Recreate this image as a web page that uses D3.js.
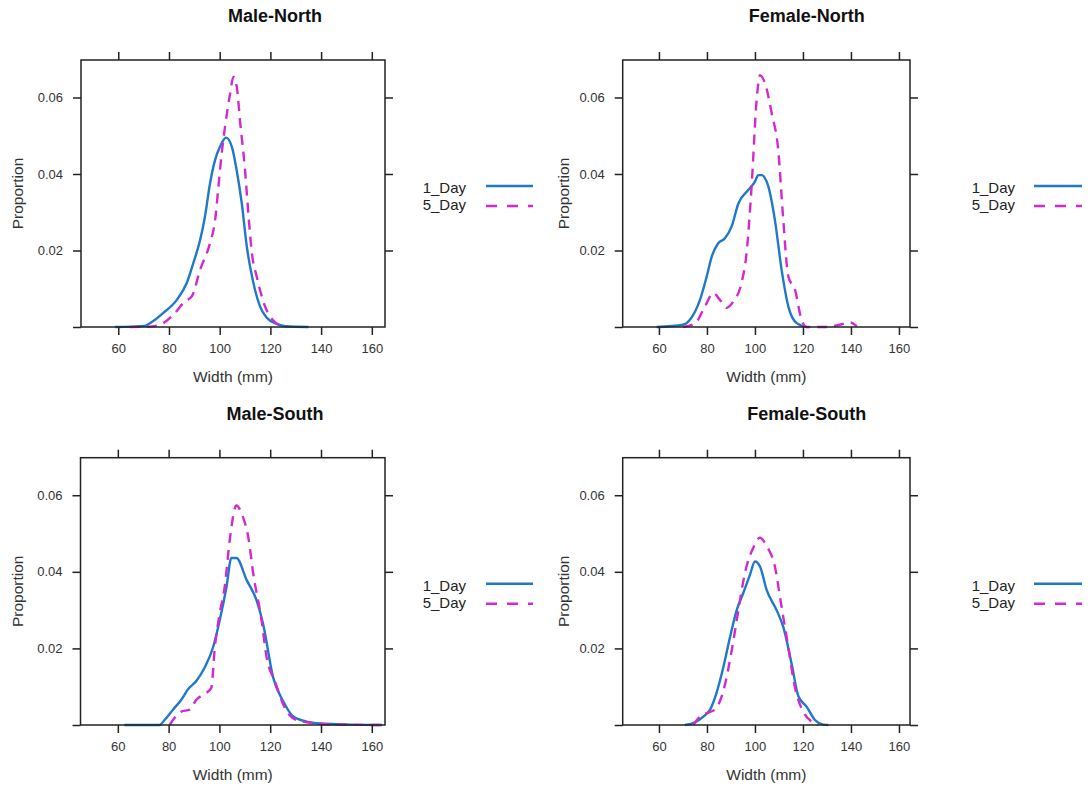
<!DOCTYPE html>
<html>
<head>
<meta charset="utf-8">
<script src="https://cdn.jsdelivr.net/npm/d3@7"></script>
<style>
  html, body { margin: 0; padding: 0; background: #fff; }
  svg { display: block; font-family: "Liberation Sans", Arial, sans-serif; }
</style>
</head>
<body>
<svg id="chart" width="1092" height="789"></svg>
<script>
// ---------------- DATA ----------------
const panelTitles = ["Male-North", "Female-North", "Male-South", "Female-South"];
const seriesNames = ["1_Day", "5_Day"];
const xTicks = [60, 80, 100, 120, 140, 160];
const yTicks = [0, 0.02, 0.04, 0.06];
const yTickLabels = ["", "0.02", "0.04", "0.06"];
const xLabel = "Width (mm)";
const yLabel = "Proportion";

// [width, proportion]
const maleNorth1Day = [[58.7,0],[70.5,0.0003],[72.5,0.0010],[77.8,0.0037],[83.1,0.0071],[87.0,0.0115],[89.6,0.0167],[92.3,0.0228],[94.2,0.0289],[96.2,0.0376],[98.2,0.0437],[100.1,0.0471],[102.5,0.0495],[104.8,0.0471],[106.7,0.0410],[108.7,0.0324],[110.7,0.0210],[113.3,0.0115],[115.9,0.0054],[118.6,0.0024],[122.5,0.0008],[126,0.0002],[135,0]];
const maleNorth5Day = [[64.6,0],[72,0.0001],[76.5,0.0006],[81.7,0.0032],[86.3,0.0067],[89.0,0.0080],[92.3,0.0150],[96.2,0.0220],[98.2,0.0280],[99.5,0.0367],[100.8,0.0454],[102.1,0.0523],[104.1,0.0610],[105.4,0.0654],[106.8,0.0625],[108.0,0.0540],[110.0,0.0410],[111.3,0.0297],[112.7,0.0193],[114.6,0.0132],[117.9,0.0054],[121.9,0.0012],[124.5,0.0003],[126.4,0]];
const femaleNorth1Day = [[59,0],[70.1,0.0006],[72.9,0.0019],[77.1,0.0071],[79.9,0.0132],[82.0,0.0184],[84.7,0.0219],[87.5,0.0232],[90.3,0.0263],[93.1,0.0323],[97.2,0.0358],[100.0,0.0380],[101.4,0.0397],[102.8,0.0397],[105.6,0.0367],[108.3,0.0280],[111.1,0.0150],[113.9,0.0054],[117.4,0.0010],[121.5,0]];
const femaleNorth5Day = [[70,0],[75,0.0009],[79.2,0.0054],[82.6,0.0089],[85.4,0.0071],[88.2,0.0050],[91.0,0.0067],[94.4,0.0115],[96.5,0.0193],[98.6,0.0367],[100.7,0.0593],[102.1,0.0658],[104.2,0.0637],[107.0,0.0558],[109.7,0.0463],[111.8,0.0280],[113.9,0.0132],[116.7,0.0097],[119.4,0.0019],[121.5,0],[129.9,0],[135.4,0.0006],[139.6,0.0012],[142.4,0.0002]];
const maleSouth1Day = [[62.6,0],[76.4,0],[78.4,0.0013],[81.7,0.0040],[85.0,0.0066],[87.6,0.0093],[90.9,0.0115],[94.2,0.0150],[97.5,0.0203],[100.1,0.0273],[102.8,0.0361],[104.7,0.0436],[106.7,0.0436],[110.7,0.0379],[114.6,0.0326],[117.2,0.0264],[121.2,0.0123],[125.1,0.0062],[129.1,0.0022],[134.3,0.0009],[139.6,0.0004],[151.4,0.0001],[164,0]];
const maleSouth5Day = [[80.4,0],[81.7,0.0013],[85.0,0.0035],[88.3,0.0040],[90.9,0.0066],[94.9,0.0084],[96.8,0.0097],[98.2,0.0203],[100.1,0.0291],[102.1,0.0361],[104.1,0.0485],[106.7,0.0573],[109.3,0.0542],[111.3,0.0493],[113.3,0.0396],[116.6,0.0273],[118.6,0.0176],[121.8,0.0115],[125.8,0.0044],[130.4,0.0013],[138.3,0.0004],[144.9,0.0001],[164,0]];
const femaleSouth1Day = [[70.8,0],[75,0.0007],[78.5,0.0022],[81.3,0.0040],[84.0,0.0084],[86.8,0.0150],[89.6,0.0229],[92.4,0.0300],[95.1,0.0344],[97.9,0.0392],[100.0,0.0427],[102.1,0.0414],[104.9,0.0352],[109.0,0.0300],[111.8,0.0256],[115.3,0.0159],[118.1,0.0075],[121.5,0.0048],[125.0,0.0013],[128.5,0.0001],[130.6,0]];
const femaleSouth5Day = [[74.3,0],[77.1,0.0022],[79.9,0.0031],[83.3,0.0040],[86.8,0.0088],[90.3,0.0194],[93.1,0.0300],[95.8,0.0396],[99.3,0.0463],[102.1,0.0489],[104.9,0.0467],[108.3,0.0414],[111.1,0.0308],[113.9,0.0203],[116.7,0.0097],[120.1,0.0035],[123.6,0.0009],[126.4,0]];

const panelSeries = [
  [maleNorth1Day, maleNorth5Day],
  [femaleNorth1Day, femaleNorth5Day],
  [maleSouth1Day, maleSouth5Day],
  [femaleSouth1Day, femaleSouth5Day]
];

// ---------------- LAYOUT ----------------
const colors = ["#1f78c8", "#d02ad0"];
const dashes = [null, "10,7"];
const layout = [
  { left: 81,    right: 385, top: 60,    bottom: 327, xDom: [45.3, 165.2], titleX: 275,   rightZeroTick: false, legX: 422.7, legLineX: [486, 533],  yLabX: 17.5 },
  { left: 622.7, right: 910, top: 60,    bottom: 327, xDom: [44.9, 164.6], titleX: 806.7, rightZeroTick: true,  legX: 971.7, legLineX: [1034, 1082], yLabX: 564 },
  { left: 80.5,  right: 385, top: 457.7, bottom: 725, xDom: [45.3, 165.2], titleX: 275,   rightZeroTick: false, legX: 422.7, legLineX: [486, 533],  yLabX: 17.5 },
  { left: 622.7, right: 910, top: 457.7, bottom: 725, xDom: [44.9, 164.6], titleX: 806.7, rightZeroTick: true,  legX: 971.7, legLineX: [1034, 1082], yLabX: 564 }
];
const yDom = [0, 0.0698];
const tickLen = 8;
const axisColor = "#222";
const textColor = "#333";

const svg = d3.select("#chart");

panelTitles.forEach((title, i) => {
  const L = layout[i];
  const x = d3.scaleLinear().domain(L.xDom).range([L.left, L.right]);
  const y = d3.scaleLinear().domain(yDom).range([L.bottom, L.top]);
  const g = svg.append("g");

  // title
  g.append("text")
    .attr("x", L.titleX).attr("y", L.top - 38)
    .attr("text-anchor", "middle")
    .attr("font-size", 18).attr("font-weight", "bold").attr("fill", "#111")
    .text(title);

  // curves (drawn first, box on top)
  const line = d3.line().x(d => x(d[0])).y(d => y(d[1])).curve(d3.curveMonotoneX);
  panelSeries[i].forEach((ser, s) => {
    g.append("path")
      .datum(ser)
      .attr("d", line)
      .attr("fill", "none")
      .attr("stroke", colors[s])
      .attr("stroke-width", 2.4)
      .attr("stroke-dasharray", dashes[s])
      .attr("stroke-linejoin", "round");
  });

  // box
  g.append("rect")
    .attr("x", L.left).attr("y", L.top)
    .attr("width", L.right - L.left).attr("height", L.bottom - L.top)
    .attr("fill", "none").attr("stroke", axisColor).attr("stroke-width", 1.5);

  // bottom axis
  const bottomAxis = d3.axisBottom(x).tickValues(xTicks).tickSize(tickLen).tickPadding(6).tickFormat(d3.format("d"));
  const ba = g.append("g").attr("transform", `translate(0,${L.bottom})`).call(bottomAxis);
  // top axis (no labels)
  const topAxis = d3.axisTop(x).tickValues(xTicks).tickSize(tickLen).tickFormat("");
  const ta = g.append("g").attr("transform", `translate(0,${L.top})`).call(topAxis);
  // left axis
  const leftAxis = d3.axisLeft(y).tickValues(yTicks).tickSize(tickLen).tickPadding(10)
    .tickFormat((d, k) => yTickLabels[k]);
  const la = g.append("g").attr("transform", `translate(${L.left},0)`).call(leftAxis);
  // right axis
  const rightAxis = d3.axisRight(y).tickValues(L.rightZeroTick ? yTicks : yTicks.slice(1)).tickSize(tickLen).tickFormat("");
  const ra = g.append("g").attr("transform", `translate(${L.right},0)`).call(rightAxis);

  [ba, ta, la, ra].forEach(a => {
    a.select(".domain").remove();
    a.selectAll(".tick line").attr("stroke", axisColor).attr("stroke-width", 1.5);
    a.selectAll(".tick text").attr("fill", textColor).attr("font-size", 13)
      .attr("font-family", "'Liberation Sans', Arial, sans-serif");
  });
  ba.selectAll(".tick text").attr("dy", "0.9em");

  // axis titles
  g.append("text")
    .attr("x", (L.left + L.right) / 2).attr("y", L.bottom + 55)
    .attr("text-anchor", "middle").attr("font-size", 15.5).attr("fill", textColor)
    .text(xLabel);
  g.append("text")
    .attr("transform", `translate(${L.yLabX + 5},${(L.top + L.bottom) / 2}) rotate(-90)`)
    .attr("text-anchor", "middle").attr("font-size", 15.5).attr("fill", textColor)
    .text(yLabel);

  // legend
  seriesNames.forEach((nm, s) => {
    const ty = L.top + 133 + s * 17;
    g.append("text")
      .attr("x", L.legX).attr("y", ty)
      .attr("font-size", 15).attr("fill", "#222")
      .text(nm);
    g.append("line")
      .attr("x1", L.legLineX[0]).attr("x2", L.legLineX[1])
      .attr("y1", L.top + 126 + s * 20).attr("y2", L.top + 126 + s * 20)
      .attr("stroke", colors[s]).attr("stroke-width", 2.6)
      .attr("stroke-dasharray", dashes[s] ? "11,10" : null);
  });
});
</script>
</body>
</html>
